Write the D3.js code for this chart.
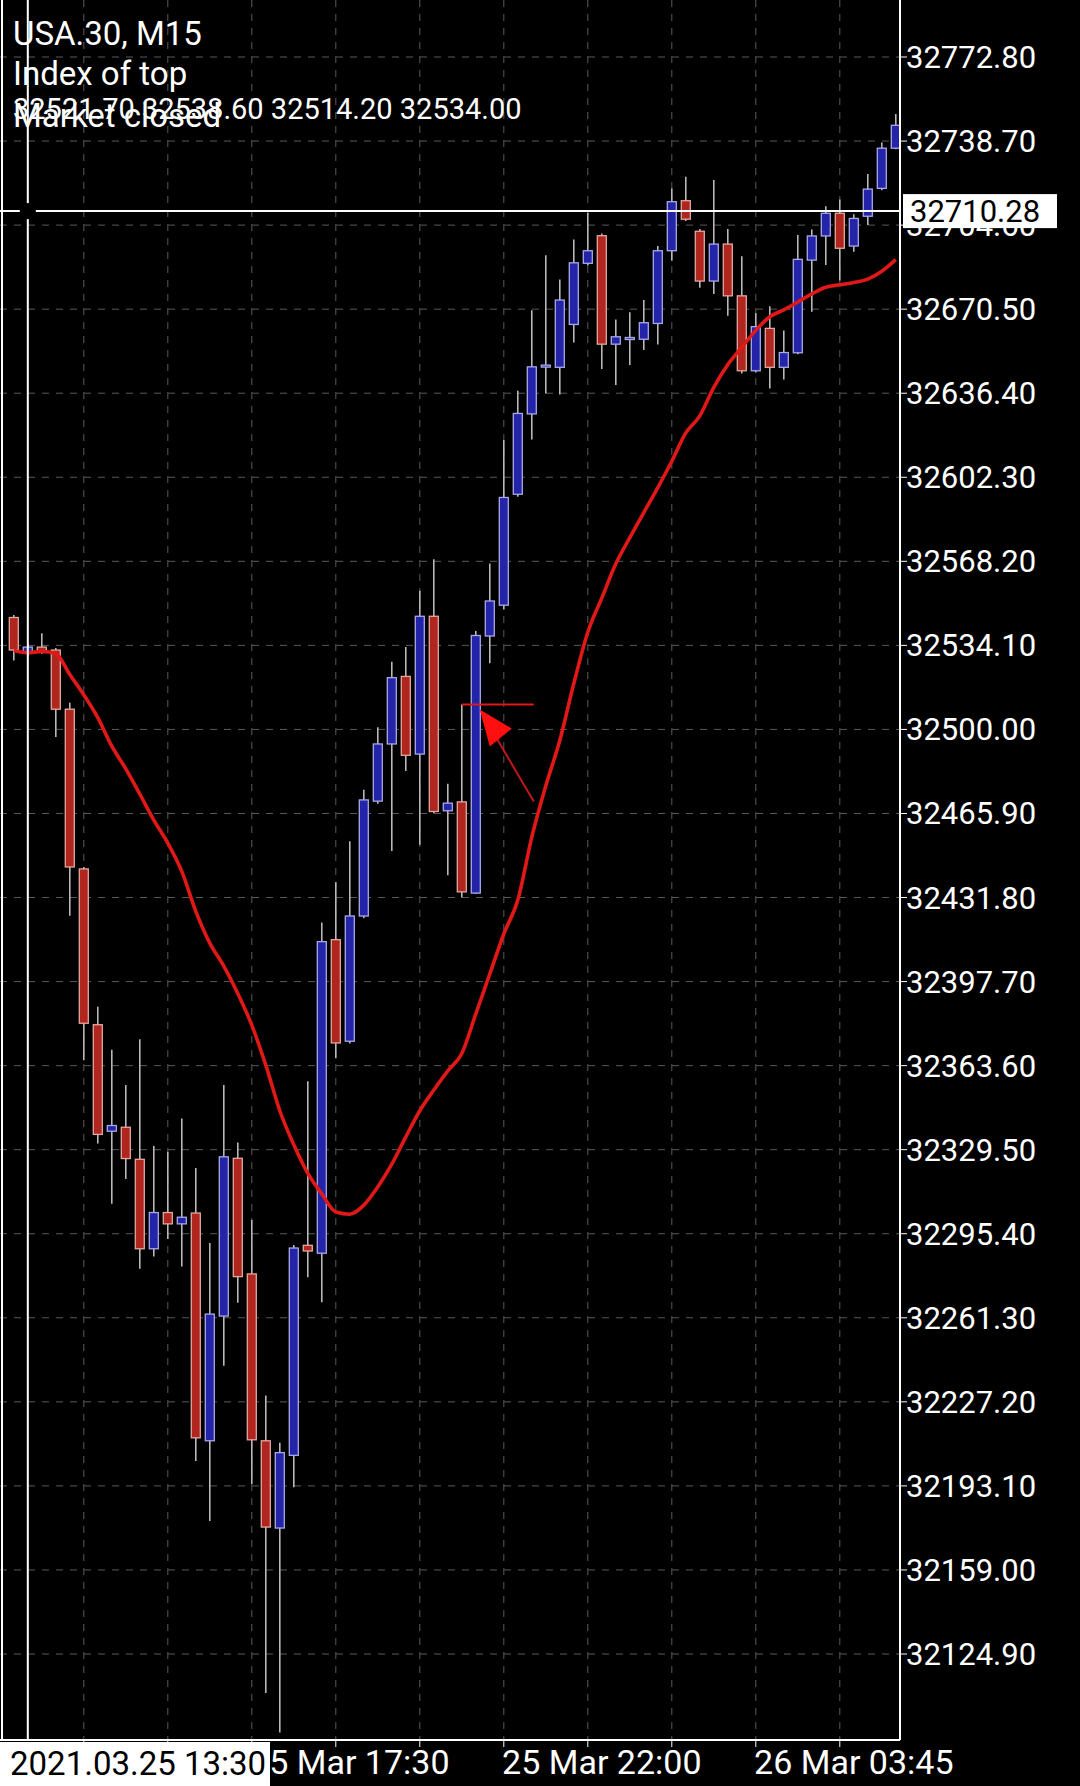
<!DOCTYPE html>
<html><head><meta charset="utf-8">
<script src="https://cdn.jsdelivr.net/npm/d3@7"></script>
<style>body{margin:0;background:#000;overflow:hidden}svg{display:block}text{font-family:Roboto,sans-serif}</style>
</head><body>
<script>
// OHLC of M15 candles, oldest first
var opens  = [32545.4,32531.1,32533.4,32532.2,32508.2,32443.4,32380.2,32337.0,32338.6,32325.6,32289.3,32304.0,32299.4,32303.8,32211.4,32262.0,32326.0,32279.1,32211.4,32176.0,32205.5,32290.7,32287.5,32414.7,32373.5,32424.3,32470.9,32494.1,32521.5,32490.0,32545.9,32467.0,32470.6,32433.6,32537.9,32550.4,32595.4,32628.0,32647.6,32646.9,32664.3,32689.1,32700.3,32656.3,32658.8,32658.3,32664.7,32694.2,32714.5,32702.1,32681.9,32696.9,32675.9,32645.5,32662.7,32646.9,32652.8,32690.4,32700.2,32709.4,32696.1,32708.2,32719.5,32735.8];
var highs  = [32546.4,32534.8,32539.0,32533.0,32510.8,32444.2,32387.5,32370.0,32355.7,32374.3,32331.0,32328.7,32342.2,32322.1,32291.6,32355.7,32332.4,32301.0,32229.8,32210.6,32290.8,32357.3,32421.7,32438.0,32454.6,32475.5,32500.9,32527.5,32533.4,32556.3,32569.0,32478.0,32510.1,32539.9,32567.3,32617.4,32637.4,32670.1,32692.4,32682.5,32698.8,32709.6,32701.2,32666.3,32669.2,32674.2,32696.1,32719.5,32724.2,32703.0,32722.9,32703.0,32692.0,32668.8,32671.7,32661.8,32700.6,32702.8,32712.3,32715.0,32709.0,32725.3,32738.1,32749.7];
var lows   = [32528.0,32529.7,32530.7,32496.9,32424.4,32365.8,32332.0,32307.6,32317.6,32281.2,32286.2,32293.3,32282.1,32203.2,32178.9,32241.8,32267.4,32193.9,32109.1,32093.1,32192.5,32277.7,32267.6,32366.6,32372.6,32423.4,32469.8,32450.7,32483.1,32453.2,32466.0,32440.8,32431.8,32433.2,32526.8,32548.7,32594.4,32617.6,32636.3,32635.9,32657.0,32688.2,32646.2,32639.7,32647.8,32653.9,32656.2,32690.1,32706.3,32679.2,32676.6,32667.8,32644.4,32644.8,32638.3,32642.0,32652.2,32669.4,32688.4,32682.1,32693.8,32704.6,32718.7,32735.4];
var closes = [32532.2,32533.4,32531.6,32508.2,32444.2,32380.8,32335.7,32339.3,32325.9,32289.3,32304.0,32299.4,32302.1,32212.6,32262.8,32326.6,32278.0,32211.8,32176.4,32206.6,32289.6,32288.4,32413.9,32372.8,32424.3,32471.4,32494.1,32521.0,32489.5,32545.9,32466.7,32470.1,32434.1,32538.1,32552.1,32594.1,32628.2,32647.1,32647.8,32674.2,32689.3,32694.2,32656.3,32659.3,32659.0,32665.0,32694.2,32714.1,32707.0,32681.9,32696.9,32675.9,32645.5,32663.4,32646.9,32652.9,32690.7,32700.2,32709.4,32695.2,32707.3,32719.2,32735.8,32745.1];
// moving average (red line)
var maValues = [32532.0,32531.1,32531.6,32530.7,32522.3,32514.0,32504.8,32493.2,32484.0,32473.8,32463.2,32453.9,32442.4,32426.2,32413.3,32404.0,32392.9,32380.0,32363.8,32345.3,32331.5,32319.9,32311.6,32304.2,32303.3,32307.0,32314.4,32323.6,32334.7,32345.3,32353.7,32361.5,32368.5,32384.6,32400.8,32417.0,32430.8,32456.3,32477.1,32495.5,32518.6,32539.4,32553.3,32567.2,32577.8,32588.0,32598.1,32608.8,32620.3,32627.2,32638.8,32648.0,32655.0,32661.9,32667.4,32670.2,32673.4,32676.7,32679.4,32680.4,32681.3,32682.7,32685.9,32690.6];
var priceTicks = [32772.80,32738.70,32704.60,32670.50,32636.40,32602.30,32568.20,32534.10,32500.00,32465.90,32431.80,32397.70,32363.60,32329.50,32295.40,32261.30,32227.20,32193.10,32159.00,32124.90];
var timeLabels = [{i:17, t:"25 Mar 17:30"},{i:35, t:"25 Mar 22:00"},{i:53, t:"26 Mar 03:45"}];
var currentPrice = 32710.28;
var headerLines = ["USA.30, M15", "Index of top"];
var ohlcText = "32521.70 32538.60 32514.20 32534.00";

var W = 1080, H = 1786, axisX = 900, axisY = 1740;
var svg = d3.select("body").append("svg").attr("width", W).attr("height", H);
svg.append("rect").attr("width", W).attr("height", H).attr("fill", "#000");

var x = d3.scaleLinear().domain([0, 63]).range([13.8, 895.8]);
var y = d3.scaleLinear().domain([32124.9, 32772.8]).range([1654, 57]);

// grid
var gridIdx = d3.range(5, 64, 6);
svg.selectAll(".vg").data(gridIdx).enter().append("line")
  .attr("x1", d => x(d)).attr("x2", d => x(d)).attr("y1", 0).attr("y2", axisY)
  .attr("stroke", "#5a5a5a").attr("stroke-dasharray", "7,7");
svg.selectAll(".hg").data(priceTicks).enter().append("line")
  .attr("x1", 0).attr("x2", axisX).attr("y1", d => y(d)).attr("y2", d => y(d))
  .attr("stroke", "#5a5a5a").attr("stroke-dasharray", "7,7");

// candles
var idx = d3.range(opens.length);
svg.selectAll(".wick").data(idx).enter().append("line")
  .attr("x1", i => x(i)).attr("x2", i => x(i))
  .attr("y1", i => y(highs[i])).attr("y2", i => y(lows[i]))
  .attr("stroke", "#b8b8b8").attr("stroke-width", 1.6);
svg.selectAll(".body").data(idx).enter().append("rect")
  .attr("x", i => x(i) - 4.5).attr("width", 9)
  .attr("y", i => y(Math.max(opens[i], closes[i])))
  .attr("height", i => Math.max(2, Math.abs(y(opens[i]) - y(closes[i]))))
  .attr("fill", i => closes[i] >= opens[i] ? "#2424a8" : "#b0261e")
  .attr("stroke", i => closes[i] >= opens[i] ? "#a8a8e8" : "#e0a8a0")
  .attr("stroke-width", 1.3);

// moving average
svg.append("path").datum(maValues)
  .attr("d", d3.line().x((d, i) => x(i)).y(d => y(d)).curve(d3.curveMonotoneX))
  .attr("fill", "none").attr("stroke", "#e01818").attr("stroke-width", 3.6);

// arrow annotation at candle 32 high
var ax = x(32), ay = y(highs[32]);
svg.append("line").attr("x1", ax).attr("x2", ax + 72).attr("y1", ay).attr("y2", ay)
  .attr("stroke", "#e01818").attr("stroke-width", 2);
svg.append("line").attr("x1", ax + 72).attr("y1", ay + 97).attr("x2", ax + 22).attr("y2", ay + 12)
  .attr("stroke", "#c01818").attr("stroke-width", 2);
svg.append("path")
  .attr("d", "M" + (ax + 18) + "," + (ay + 5) + "L" + (ax + 50) + "," + (ay + 24) + "L" + (ax + 28) + "," + (ay + 42) + "Z")
  .attr("fill", "#ff1010");

// axes frame
svg.append("line").attr("x1", axisX).attr("x2", axisX).attr("y1", 0).attr("y2", axisY).attr("stroke", "#fff").attr("stroke-width", 2);
svg.append("line").attr("x1", 0).attr("x2", axisX).attr("y1", axisY).attr("y2", axisY).attr("stroke", "#fff").attr("stroke-width", 2);
svg.append("line").attr("x1", 2).attr("x2", 2).attr("y1", 0).attr("y2", axisY).attr("stroke", "#fff").attr("stroke-width", 2);

// price labels
svg.selectAll(".pt").data(priceTicks).enter().append("line")
  .attr("x1", axisX).attr("x2", axisX + 7).attr("y1", d => y(d)).attr("y2", d => y(d)).attr("stroke", "#fff");
svg.selectAll(".pl").data(priceTicks).enter().append("text")
  .attr("x", axisX + 6).attr("y", d => y(d) + 11).attr("fill", "#fff").attr("font-size", 31)
  .text(d => d.toFixed(2));

// time labels
svg.selectAll(".tt").data(gridIdx).enter().append("line")
  .attr("x1", i => x(i)).attr("x2", i => x(i)).attr("y1", axisY).attr("y2", axisY + 7).attr("stroke", "#fff");
svg.selectAll(".tl").data(timeLabels).enter().append("text")
  .attr("x", d => x(d.i) + 98).attr("y", 1774).attr("fill", "#fff").attr("font-size", 34)
  .attr("text-anchor", "middle").text(d => d.t);

// crosshair
var cy = y(currentPrice), cx = x(1);
svg.append("line").attr("x1", 0).attr("x2", axisX).attr("y1", cy).attr("y2", cy).attr("stroke", "#fff").attr("stroke-width", 2);
svg.append("line").attr("x1", cx).attr("x2", cx).attr("y1", 0).attr("y2", axisY).attr("stroke", "#fff").attr("stroke-width", 2);
svg.append("rect").attr("x", cx - 8).attr("y", cy - 8).attr("width", 16).attr("height", 16).attr("fill", "#000");
svg.append("rect").attr("x", axisX + 3).attr("y", cy - 17).attr("width", 154).attr("height", 34).attr("fill", "#fff");
svg.append("text").attr("x", axisX + 10).attr("y", cy + 11).attr("fill", "#000").attr("font-size", 31).text(currentPrice.toFixed(2));
svg.append("rect").attr("x", 0).attr("y", axisY + 2).attr("width", 270).attr("height", 44).attr("fill", "#fff");
svg.append("text").attr("x", 10).attr("y", 1775).attr("fill", "#000").attr("font-size", 33).text("2021.03.25 13:30");

// header
svg.selectAll(".hd").data(headerLines).enter().append("text")
  .attr("x", 13).attr("y", (d, i) => 45 + i * 40).attr("fill", "#fff").attr("font-size", 33).text(d => d);
svg.append("text").attr("x", 13).attr("y", 119).attr("fill", "#fff").attr("font-size", 29).text(ohlcText);
svg.append("text").attr("x", 13).attr("y", 127).attr("fill", "#fff").attr("font-size", 33).text("Market closed");
</script>
</body></html>
